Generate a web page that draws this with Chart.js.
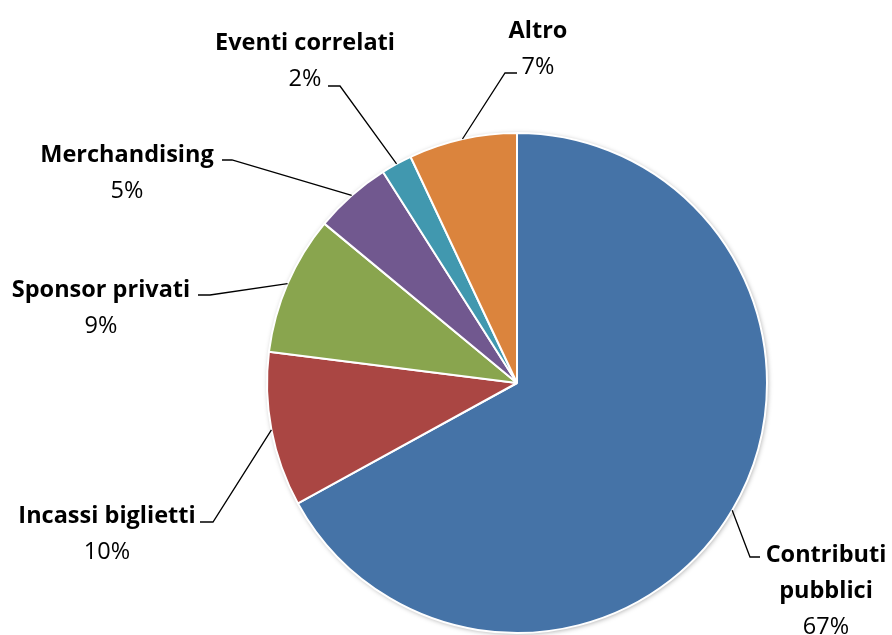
<!DOCTYPE html>
<html>
<head>
<meta charset="utf-8">
<title>Fonti di finanziamento</title>
<script src="https://cdn.jsdelivr.net/npm/chart.js@4.4.1/dist/chart.umd.min.js"></script>
<style>
  html, body { margin: 0; padding: 0; background: #fff; }
  #wrap { width: 892px; height: 635px; position: relative; }
</style>
</head>
<body>
<div id="wrap"><canvas id="pieChart"></canvas></div>
<script>
// funding sources, clockwise from 12 o'clock
const categories = ['Contributi pubblici', 'Incassi biglietti', 'Sponsor privati', 'Merchandising', 'Eventi correlati', 'Altro'];
const shares = [67, 10, 9, 5, 2, 7];
const sliceColors = ['#4573A7', '#AA4643', '#89A54E', '#71588F', '#4198AF', '#DB843D'];

// where each label block sits (x = text centre, y = first baseline) and the elbow of its leader line
const labelLayout = [
  { x: 826, y: 562, lines: ['Contributi', 'pubblici'], elbow: [750, 557], end: [760, 557] },
  { x: 107, y: 523, lines: ['Incassi biglietti'], elbow: [213, 522], end: [200, 522] },
  { x: 101, y: 297, lines: ['Sponsor privati'], elbow: [210, 295], end: [198, 295] },
  { x: 127, y: 162, lines: ['Merchandising'], elbow: [232, 160], end: [222, 160] },
  { x: 305, y: 50, lines: ['Eventi correlati'], elbow: [340, 86], end: [328, 86] },
  { x: 538, y: 38, lines: ['Altro'], elbow: [505, 73], end: [517, 73] }
];

const boldFont = 'bold 23.5px "Open Sans", Lato, sans-serif';
const normalFont = '23.5px "Open Sans", Lato, sans-serif';
const lineGap = 36;

// soft shadow under the pie
const pieShadow = {
  id: 'pieShadow',
  beforeDatasetsDraw(chart) {
    const arc = chart.getDatasetMeta(0).data[0];
    if (!arc) return;
    const ctx = chart.ctx;
    ctx.save();
    ctx.shadowColor = 'rgba(0,0,0,0.35)';
    ctx.shadowBlur = 5;
    ctx.shadowOffsetX = 1;
    ctx.shadowOffsetY = 1;
    ctx.fillStyle = '#fff';
    ctx.beginPath();
    ctx.arc(arc.x, arc.y, arc.outerRadius, 0, Math.PI * 2);
    ctx.fill();
    ctx.restore();
  }
};

// category + percentage labels with leader lines to the middle of each slice
const sliceLabels = {
  id: 'sliceLabels',
  afterDatasetsDraw(chart) {
    const ctx = chart.ctx;
    const meta = chart.getDatasetMeta(0);
    const total = shares.reduce((a, b) => a + b, 0);
    meta.data.forEach((arc, i) => {
      const lay = labelLayout[i];
      const mid = (arc.startAngle + arc.endAngle) / 2;
      const sx = arc.x + Math.cos(mid) * arc.outerRadius;
      const sy = arc.y + Math.sin(mid) * arc.outerRadius;
      ctx.save();
      ctx.strokeStyle = '#000';
      ctx.lineWidth = 1.3;
      ctx.beginPath();
      ctx.moveTo(sx, sy);
      ctx.lineTo(lay.elbow[0], lay.elbow[1]);
      ctx.lineTo(lay.end[0], lay.end[1]);
      ctx.stroke();

      ctx.fillStyle = '#000';
      ctx.textAlign = 'center';
      ctx.textBaseline = 'alphabetic';
      let y = lay.y;
      ctx.font = boldFont;
      lay.lines.forEach(t => {
        ctx.fillText(t, lay.x, y);
        y += lineGap;
      });
      ctx.font = normalFont;
      ctx.fillText(Math.round(shares[i] / total * 100) + '%', lay.x, y);
      ctx.restore();
    });
  }
};

const ctx = document.getElementById('pieChart').getContext('2d');
const myPie = new Chart(ctx, {
  type: 'pie',
  data: {
    labels: categories,
    datasets: [{
      data: shares,
      backgroundColor: sliceColors,
      borderColor: '#ffffff',
      borderWidth: 2
    }]
  },
  options: {
    responsive: true,
    maintainAspectRatio: false,
    animation: false,
    layout: { padding: { left: 266, right: 124, top: 132, bottom: 1 } },
    plugins: {
      legend: { display: false },
      tooltip: { enabled: false }
    }
  },
  plugins: [pieShadow, sliceLabels]
});
</script>
</body>
</html>
